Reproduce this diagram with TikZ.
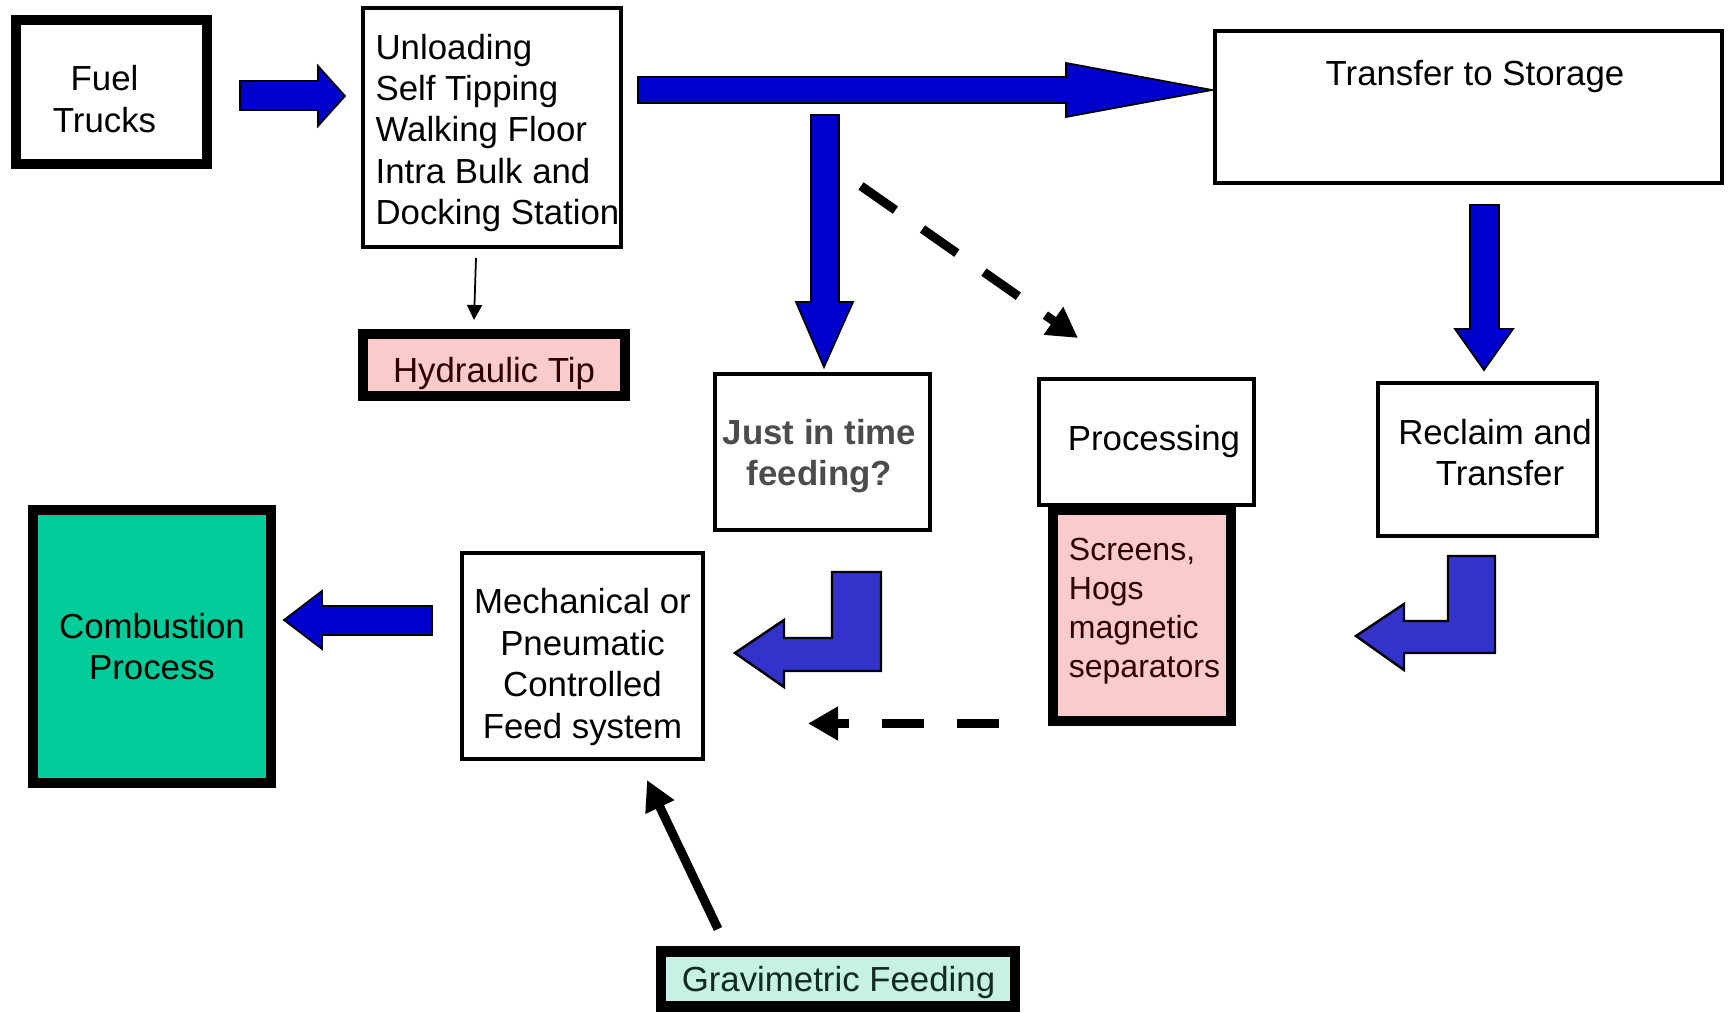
\documentclass[tikz,border=0pt]{standalone}
\usepackage{fontspec}
\setmainfont{Liberation Sans}
\usetikzlibrary{arrows.meta, positioning}
\definecolor{arrowblue}{HTML}{0000CC}
\definecolor{bentblue}{HTML}{3333CC}
\definecolor{combgreen}{HTML}{00CC99}
\definecolor{tippink}{HTML}{F9CBCB}
\definecolor{tipred}{HTML}{2E0000}
\definecolor{gravfill}{HTML}{C6F1E4}
\definecolor{gravtext}{HTML}{0F2B23}

\tikzset{
  thinbox/.style={draw, line width=1.28pt, inner sep=0pt, align=center},
  thickbox/.style={draw, line width=3pt, inner sep=0pt, align=center},
  boxtext/.style={inner sep=0pt, align=center},
  fatarrow/.style={fill=arrowblue, draw=black, line width=0.5pt},
  bentarrow/.style={fill=bentblue, draw=black, line width=0.7pt},
  dasharrow/.style={line width=2.56pt, dash pattern=on 0.42cm off 0.33cm, -{Triangle[length=0.3cm, width=0.32cm]}},
}

\begin{document}
\begin{tikzpicture}[x=0.01cm, y=-0.01cm, font=\fontsize{9.9}{11.8}\selectfont]
\useasboundingbox (0,0) rectangle (1729,1013);

% boxes
\node[thickbox, minimum width=1.91cm, minimum height=1.44cm] (fuel) at (111.5,92) {};
\node[boxtext] (fueltxt) at (104.5,99) {Fuel\\Trucks};
\node[thinbox, minimum width=2.58cm, minimum height=2.39cm] (unload) at (492,127.5) {};
\node[boxtext, align=left] (unloadtxt) at (497.5,133) {Unloading\\Self Tipping\\Walking Floor\\Intra Bulk and\\Docking Station};
\node[thickbox, fill=tippink, minimum width=2.62cm, minimum height=0.62cm] (hydraulic) at (494,365) {};
\node[boxtext, text=tipred] (hydraulictxt) at (494,374) {Hydraulic Tip};
\node[thinbox, minimum width=5.07cm, minimum height=1.52cm] (storage) at (1468.5,107) {};
\node[boxtext] (storagetxt) at (1475,76.5) {Transfer to Storage};
\node[thinbox, minimum width=2.15cm, minimum height=1.56cm] (jit) at (822.5,452) {};
\node[boxtext, text=black!70, font=\fontsize{9.9}{11.8}\selectfont\bfseries] (jittxt) at (819.5,456) {Just in time\\feeding?};
\node[thinbox, minimum width=2.15cm, minimum height=1.26cm] (proc) at (1146.5,442) {\hspace{0.15cm}Processing};
\node[thickbox, fill=tippink, minimum width=1.78cm, minimum height=2.11cm] (screens) at (1142,615.5) {};
\node[boxtext, align=left, text=tipred, font=\fontsize{9.1}{11.1}\selectfont] (screenstxt) at (1144.5,611) {Screens,\\Hogs\\magnetic\\separators};
\node[thinbox, minimum width=2.19cm, minimum height=1.53cm] (reclaim) at (1487.5,459.5) {};
\node[boxtext] (reclaimtxt) at (1495,452.5) {Reclaim and\\\hspace{0.1cm}Transfer};
\node[thinbox, minimum width=2.41cm, minimum height=2.06cm] (mech) at (582.5,656) {};
\node[boxtext] (mechtxt) at (582.5,667) {Mechanical or\\Pneumatic\\Controlled\\Feed system};
\node[thickbox, fill=combgreen, minimum width=2.38cm, minimum height=2.73cm] (comb) at (152,646.5) {Combustion\\Process};
\node[thickbox, fill=gravfill, minimum width=3.54cm, minimum height=0.555cm] (grav) at (838,979) {};
\node[boxtext, text=gravtext] (gravtxt) at (838.5,983) {Gravimetric Feeding};

% block arrows
\draw[fatarrow] (240,81) -- (318,81) -- (318,66) -- (345,96) -- (318,126) -- (318,110) -- (240,110) -- cycle;
\draw[fatarrow] (638,77) -- (1066,77) -- (1066,63) -- (1212,90) -- (1066,117) -- (1066,103) -- (638,103) -- cycle;
\draw[fatarrow] (811,115) -- (839,115) -- (839,302) -- (853,302) -- (824,367) -- (796,302) -- (811,302) -- cycle;
\draw[fatarrow] (1470,205) -- (1499,205) -- (1499,329) -- (1513,329) -- (1484,370) -- (1455,329) -- (1470,329) -- cycle;
\draw[fatarrow] (432,606) -- (322,606) -- (322,591) -- (284,620) -- (322,649) -- (322,635) -- (432,635) -- cycle;
\draw[bentarrow] (832,572) -- (881,572) -- (881,671) -- (784,671) -- (784,687) -- (735,653) -- (784,620) -- (784,638) -- (832,638) -- cycle;
\draw[bentarrow] (1448,556) -- (1495,556) -- (1495,653) -- (1404,653) -- (1404,670) -- (1356,636) -- (1404,604) -- (1404,621) -- (1448,621) -- cycle;

% line arrows
\coordinate (tipfrom) at (476,258);
\coordinate (tipto) at (474,320);
\draw[line width=0.5pt, -{Triangle[length=0.15cm, width=0.15cm]}] (tipfrom) -- (tipto);

\coordinate (procfrom) at (861,186);
\coordinate (procto) at (1078,338);
\draw[dasharrow] (procfrom) -- (procto);

\coordinate (screensfrom) at (999,723.5);
\coordinate (screensto) at (808,723.5);
\draw[dasharrow] (screensfrom) -- (screensto);

\coordinate (gravfrom) at (718,929);
\coordinate (gravto) at (647,780);
\draw[line width=2.56pt, -{Triangle[length=0.3cm, width=0.3cm]}] (gravfrom) -- (gravto);
\end{tikzpicture}
\end{document}
